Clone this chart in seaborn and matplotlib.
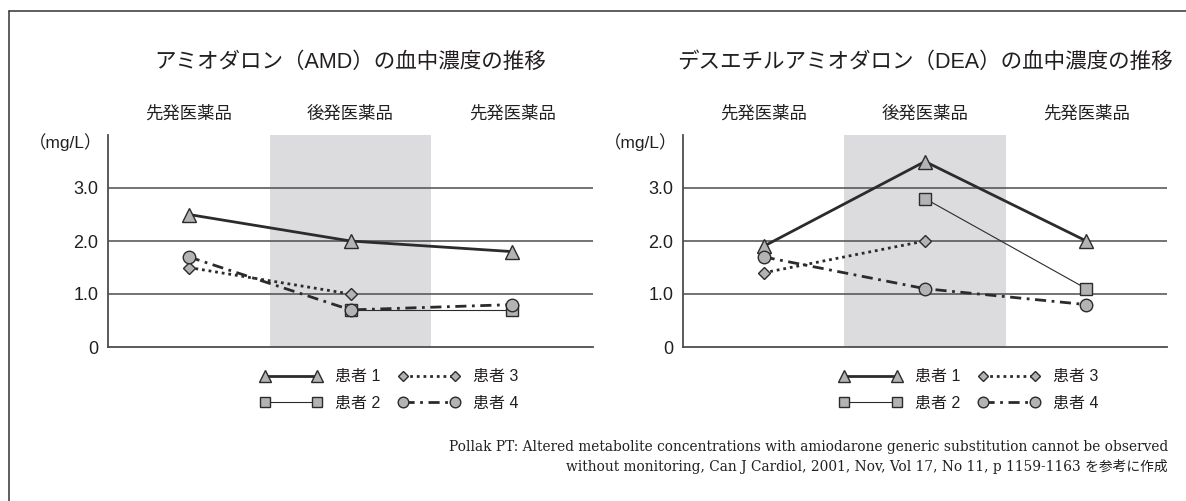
"""アミオダロン / デスエチルアミオダロンの血中濃度推移（患者別）"""

import matplotlib
matplotlib.use("Agg")
import matplotlib.pyplot as plt
import numpy as np
import pandas as pd
import seaborn as sns
from matplotlib.lines import Line2D

# ---- データ ----
periods = ["先発医薬品", "後発医薬品", "先発医薬品"]
patients = ["患者 1", "患者 2", "患者 3", "患者 4"]

amd_p1 = [2.5, 2.0, 1.8]
amd_p2 = [np.nan, 0.7, 0.7]
amd_p3 = [1.5, 1.0, np.nan]
amd_p4 = [1.7, 0.7, 0.8]

dea_p1 = [1.9, 3.5, 2.0]
dea_p2 = [np.nan, 2.8, 1.1]
dea_p3 = [1.4, 2.0, np.nan]
dea_p4 = [1.7, 1.1, 0.8]

y_ticks = [0, 1, 2, 3]
y_ticklabels = ["0", "1.0", "2.0", "3.0"]

titles = ["アミオダロン（AMD）の血中濃度の推移",
          "デスエチルアミオダロン（DEA）の血中濃度の推移"]
source = ("Pollak PT: Altered metabolite concentrations with amiodarone generic substitution cannot be observed\n"
          "without monitoring, Can J Cardiol, 2001, Nov, Vol 17, No 11, p 1159-1163 を参考に作成")

sns.set_style("white")
plt.rcParams["font.family"] = ["Liberation Sans", "Noto Sans CJK JP", "DejaVu Sans"]

TXT = "#231f20"
GRID = "#4d4d4d"
FILL = "#b3b3b5"
EDGE = "#2b2b2b"

styles = {
    "患者 1": dict(marker="^", markersize=10.5, linewidth=2.0, linestyle="-", color="#2b2b2b"),
    "患者 2": dict(marker="s", markersize=9, linewidth=0.8, linestyle="-", color="#2b2b2b"),
    "患者 3": dict(marker="D", markersize=6.5, linewidth=2.0, linestyle=(0, (1, 1.4)), color="#2b2b2b"),
    "患者 4": dict(marker="o", markersize=9, linewidth=2.0, linestyle=(0, (4, 2, 1, 2)), color="#2b2b2b"),
}


def long_df(series):
    rows = []
    for name, vals in zip(patients, series):
        for i, v in enumerate(vals):
            rows.append({"patient": name, "x": i, "y": v})
    return pd.DataFrame(rows)


fig = plt.figure(figsize=(11.86, 5.01), dpi=100)

panels = [
    (fig.add_axes([108 / 1186, 1 - 347 / 501, 485 / 1186, 212 / 501]),
     long_df([amd_p1, amd_p2, amd_p3, amd_p4]), titles[0], 350, 389),
    (fig.add_axes([683 / 1186, 1 - 347 / 501, 484 / 1186, 212 / 501]),
     long_df([dea_p1, dea_p2, dea_p3, dea_p4]), titles[1], 925, 969),
]

for ax, df, title, title_x, leg_x in panels:
    ax.axvspan(0.5, 1.5, color="#dcdcde", lw=0, zorder=0)
    for yv in y_ticks[1:]:
        ax.axhline(yv, color=GRID, lw=1.1, zorder=1)

    for name in patients:
        d = df[df["patient"] == name].dropna()
        st = styles[name]
        sns.lineplot(data=d, x="x", y="y", ax=ax, errorbar=None,
                     color=st["color"], linewidth=st["linewidth"], linestyle=st["linestyle"],
                     marker=st["marker"], markersize=st["markersize"],
                     markerfacecolor=FILL, markeredgecolor=EDGE, markeredgewidth=1.0,
                     zorder=3)

    ax.set_xlim(-0.5, 2.5)
    ax.set_ylim(0, 4)
    ax.set_xlabel("")
    ax.set_ylabel("")
    ax.set_xticks([0.5, 1.5, 2.5])
    ax.set_xticklabels([])
    ax.tick_params(axis="x", direction="in", length=4, width=1.1, color=EDGE)
    ax.set_yticks(y_ticks)
    ax.set_yticklabels(y_ticklabels)
    ax.tick_params(axis="y", length=0, pad=7, labelsize=13, labelcolor=TXT)
    for s in ["top", "right"]:
        ax.spines[s].set_visible(False)
    for s in ["left", "bottom"]:
        ax.spines[s].set_color(GRID)
        ax.spines[s].set_linewidth(1.3)
    ax.grid(False)

    # 期間ラベル
    trans = ax.get_xaxis_transform()
    for i, p in enumerate(periods):
        ax.text(i, 1.1, p, transform=trans, ha="center", va="center",
                fontsize=12.5, color=TXT)
    ax.text(-0.012, 0.965, "（mg/L）", transform=ax.transAxes, ha="right", va="center",
            fontsize=12.5, color=TXT)

    fig.text(title_x / 1186, 1 - 62 / 501, title, ha="center", va="center",
             fontsize=15.5, color=TXT)

    handles = [Line2D([0], [0], color=styles[n]["color"], linewidth=styles[n]["linewidth"],
                      linestyle=styles[n]["linestyle"], marker=styles[n]["marker"],
                      markersize=styles[n]["markersize"] * 0.85, markerfacecolor=FILL,
                      markeredgecolor=EDGE, markeredgewidth=1.0)
               for n in patients]
    fig.legend(handles, patients, ncol=2, numpoints=2, frameon=False,
               loc="center", bbox_to_anchor=(leg_x / 1186, 1 - 390 / 501),
               fontsize=11.5, handlelength=3.9, handletextpad=0.8,
               columnspacing=1.1, labelspacing=0.7, labelcolor=TXT)

# 外枠（上・左）
fig.add_artist(Line2D([9 / 1186, 1.0], [1 - 11 / 501, 1 - 11 / 501],
                      transform=fig.transFigure, color="#333333", lw=1.1))
fig.add_artist(Line2D([9 / 1186, 9 / 1186], [0, 1 - 11 / 501],
                      transform=fig.transFigure, color="#333333", lw=1.1))

fig.text(1168 / 1186, 1 - 457 / 501, source, ha="right", va="center",
         fontsize=9.9, color=TXT, linespacing=1.5,
         family=["DejaVu Serif", "Noto Sans CJK JP"])

fig.savefig("out.png", dpi=100)
plt.close(fig)
